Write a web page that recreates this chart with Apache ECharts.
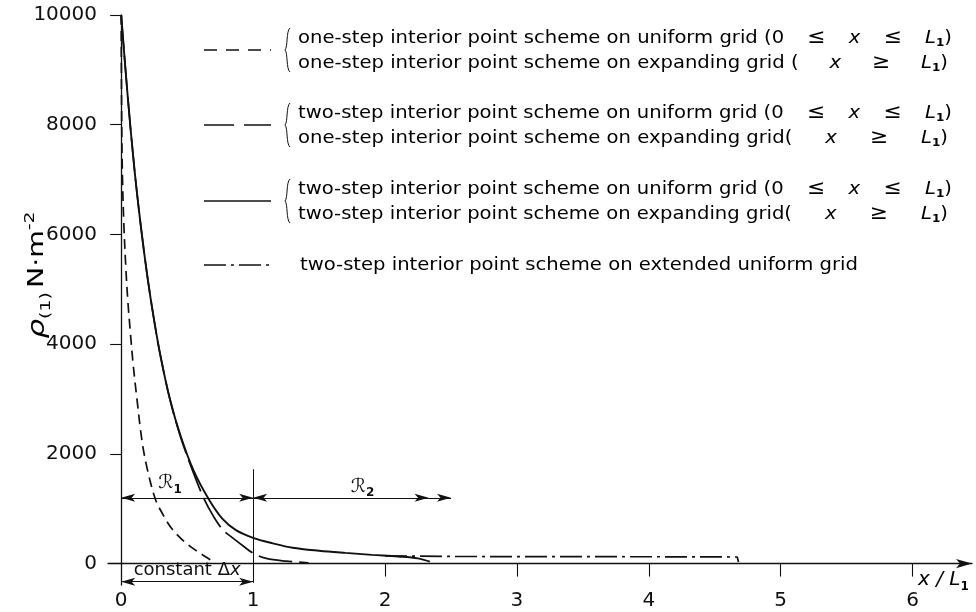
<!DOCTYPE html>
<html>
<head>
<meta charset="utf-8">
<script src="https://cdn.jsdelivr.net/npm/echarts@6/dist/echarts.min.js"></script>
<style>
  html, body { margin: 0; padding: 0; background: #fff; }
  #chart { width: 976px; height: 612px; }
</style>
</head>
<body>
<div id="chart"></div>
<script>
// Axis ticks
const xTicks = [0, 1, 2, 3, 4, 5, 6];
const xTickMarks = [1, 2, 3, 4, 5, 6];
const yTicks = [0, 2000, 4000, 6000, 8000, 10000];

// p(1) [N/m^2] against x/L1
// one-step scheme on uniform grid + one-step scheme on expanding grid
const oneStepBoth = [
  [0, 10000], [0.004, 8000], [0.01, 7000], [0.02, 6200], [0.035, 5400],
  [0.05, 4800], [0.07, 4200], [0.09, 3650], [0.12, 2990], [0.16, 2200],
  [0.2, 1700], [0.26, 1170], [0.32, 880], [0.38, 650], [0.47, 420],
  [0.56, 250], [0.63, 140], [0.69, 50]
];
// two-step scheme on uniform grid + one-step scheme on expanding grid
const twoStepOneStep = [
  [0, 10000], [0.05, 8500], [0.1, 7200], [0.15, 6130], [0.2, 5210],
  [0.25, 4430], [0.3, 3760], [0.37, 2990], [0.45, 2310], [0.55, 1640],
  [0.63, 1170], [0.7, 860], [0.77, 620], [0.85, 460], [0.92, 330],
  [1.0, 190], [1.1, 95], [1.25, 45], [1.42, 15]
];
// two-step scheme on uniform grid + two-step scheme on expanding grid
const twoStepBoth = [
  [0, 10000], [0.05, 8500], [0.1, 7200], [0.15, 6130], [0.2, 5210],
  [0.25, 4430], [0.3, 3760], [0.37, 2990], [0.45, 2330], [0.55, 1690],
  [0.665, 1170], [0.77, 810], [0.87, 610], [1.0, 470], [1.15, 370],
  [1.3, 290], [1.5, 235], [1.7, 195], [1.9, 160], [2.1, 130],
  [2.25, 95], [2.34, 35]
];
// two-step scheme on extended uniform grid
const twoStepExtended = [
  [2.0, 140], [2.5, 130], [3.0, 128], [3.5, 126], [4.0, 125],
  [4.5, 122], [4.67, 120], [4.68, 30]
];

// Region markers
const regionLevel = 1200;
const region1 = [0, 1];
const region2 = [1, 2.5];
const region2Inner = 2.33;
const boundary = [-350, 1720];
const constantLevel = -330;
const region1Label = [0.37, 1460];
const region2Label = [1.83, 1400];

const ink = '#111';
const font = 'DejaVu Sans';
const legendSize = 18;

// Legend entries: prose part, then the grid range written as spaced tokens
const legendRows = [
  { dash: [13, 9], lines: [
    { head: 'one-step interior point scheme on uniform grid (', range: ['0', '≤', 'x', '≤', 'L'] },
    { head: 'one-step interior point scheme on expanding grid (', range: ['x', '≥', 'L'] }] },
  { dash: [30, 10], lines: [
    { head: 'two-step interior point scheme on uniform grid (', range: ['0', '≤', 'x', '≤', 'L'] },
    { head: 'one-step interior point scheme on expanding grid(', range: ['x', '≥', 'L'] }] },
  { dash: null, lines: [
    { head: 'two-step interior point scheme on uniform grid (', range: ['0', '≤', 'x', '≤', 'L'] },
    { head: 'two-step interior point scheme on expanding grid(', range: ['x', '≥', 'L'] }] },
  { dash: [22, 5, 3, 5], lines: [
    { head: 'two-step interior point scheme on extended uniform grid', range: null }] }
];

const measureCtx = document.createElement('canvas').getContext('2d');
function textWidth(str, size, italic, bold) {
  measureCtx.font = (italic ? 'italic ' : '') + (bold ? 'bold ' : '') + size + 'px "' + font + '"';
  return measureCtx.measureText(str).width;
}

const textLeft = 298, singleLeft = 300;
const singleRight = 858;
const stretch = (singleRight - singleLeft) / textWidth(legendRows[3].lines[0].head, legendSize);

// Build one rich string; gaps inside the range are sized so the line ends at `right`
function legendLine(entry, right, left) {
  const base = {
    t: { fontFamily: font, fontSize: legendSize, color: ink, lineHeight: 22 },
    m: { fontFamily: font, fontSize: legendSize + 2, color: ink, lineHeight: 22 },
    i: { fontFamily: font, fontSize: legendSize, fontStyle: 'italic', color: ink, lineHeight: 22 },
    s: { fontFamily: font, fontSize: 11, fontWeight: 'bold', color: ink, lineHeight: 12, verticalAlign: 'bottom' }
  };
  if (!entry.range) return { text: '{t|' + entry.head + '}', rich: base };
  const italics = { x: true, L: true };
  const maths = { '≤': true, '≥': true };
  let used = textWidth(entry.head, legendSize) + textWidth('1', 11, false, true) + textWidth(')', legendSize);
  entry.range.forEach(tok => {
    used += textWidth(tok, maths[tok] ? legendSize + 2 : legendSize, italics[tok]);
  });
  const gaps = entry.range.length === 5 ? 4 : 3;
  const avail = (right - left) / stretch;
  const gap = Math.max(4, (avail - used) / gaps);
  base.g = { width: gap, lineHeight: 22, fontSize: legendSize };
  let txt = '{t|' + entry.head + '}';
  if (gaps === 3) txt += '{g| }';
  entry.range.forEach((tok, idx) => {
    const key = italics[tok] ? 'i' : (maths[tok] ? 'm' : 't');
    txt += '{' + key + '|' + tok + '}';
    if (idx < entry.range.length - 1) txt += '{g| }';
  });
  txt += '{s|1}{t|)}';
  return { text: txt, rich: base };
}

function curve(name, data, dash, width) {
  return {
    name, type: 'line', data, showSymbol: false, smooth: 0.35,
    lineStyle: { color: ink, width: width || 1.7, type: dash || 'solid' },
    animation: false, z: 3
  };
}

// Legend block: line sample, brace, text lines
const legendGraphics = [];
const rowTops = [38, 113, 189, 265];
const lineEnds = [952, 948];
legendRows.forEach((row, k) => {
  const y0 = rowTops[k];
  const two = row.lines.length === 2;
  const midY = two ? y0 + 12 : y0;
  legendGraphics.push({
    type: 'line', silent: true,
    shape: { x1: 204, y1: midY, x2: 271, y2: midY },
    style: { stroke: ink, lineWidth: 1.7, lineDash: row.dash || null }
  });
  if (two) {
    const bx = 287, t0 = y0 - 10, t1 = y0 + 34, m = midY;
    legendGraphics.push({
      type: 'bezierCurve', silent: true,
      shape: { x1: bx + 3, y1: t0, cpx1: bx - 1, cpy1: t0 + 3, cpx2: bx + 1, cpy2: m - 3, x2: bx - 2, y2: m },
      style: { stroke: ink, lineWidth: 1, fill: null }
    });
    legendGraphics.push({
      type: 'bezierCurve', silent: true,
      shape: { x1: bx - 2, y1: m, cpx1: bx + 1, cpy1: m + 3, cpx2: bx - 1, cpy2: t1 - 3, x2: bx + 3, y2: t1 },
      style: { stroke: ink, lineWidth: 1, fill: null }
    });
    row.lines.forEach((entry, j) => {
      const built = legendLine(entry, lineEnds[j], textLeft);
      legendGraphics.push({
        type: 'text', silent: true, x: textLeft, y: y0 + j * 25, scaleX: stretch,
        style: { text: built.text, rich: built.rich, verticalAlign: 'middle', align: 'left' }
      });
    });
  } else {
    const built = legendLine(row.lines[0], singleRight, singleLeft);
    legendGraphics.push({
      type: 'text', silent: true, x: singleLeft, y: y0, scaleX: stretch,
      style: { text: built.text, rich: built.rich, verticalAlign: 'middle', align: 'left' }
    });
  }
});

const chart = echarts.init(document.getElementById('chart'), null, { renderer: 'canvas' });

const axisLineStyle = { color: ink, width: 1.3 };
const tickFont = { fontFamily: font, fontSize: 20, color: ink, formatter: v => String(v) };

chart.setOption({
  backgroundColor: '#fff',
  animation: false,
  grid: { left: 108, right: 4, top: 15, bottom: 27, outerBoundsMode: 'none', containLabel: false },
  xAxis: {
    type: 'value', min: -0.1, max: 6.45,
    axisLine: { onZero: true, lineStyle: axisLineStyle, symbol: ['none', 'arrow'], symbolSize: [7, 16] },
    axisTick: { customValues: xTickMarks, length: 13, lineStyle: { color: ink, width: 1.1 } },
    axisLabel: Object.assign({ customValues: xTicks, margin: 6 }, tickFont),
    splitLine: { show: false }
  },
  yAxis: {
    type: 'value', min: -390, max: 10000,
    axisLine: { onZero: true, lineStyle: axisLineStyle },
    axisTick: { customValues: yTicks, length: 11, lineStyle: { color: ink, width: 1.1 } },
    axisLabel: Object.assign({ customValues: yTicks, margin: 11 }, tickFont),
    splitLine: { show: false }
  },
  series: [
    curve('one-step / one-step', oneStepBoth, [10, 6]),
    curve('two-step / one-step', twoStepOneStep, [34, 7]),
    curve('two-step / two-step', twoStepBoth, 'solid', 1.9),
    Object.assign(curve('two-step extended', twoStepExtended, [22, 5, 3, 5]), {
      smooth: false,
      markLine: {
        silent: true, animation: false,
        symbolSize: [6, 14],
        lineStyle: { color: ink, type: 'solid', width: 1.2 },
        label: { show: false },
        data: [
          [{ coord: [region1[0], regionLevel], symbol: 'arrow' }, { coord: [region1[1], regionLevel], symbol: 'arrow' }],
          [{ coord: [region2[0], regionLevel], symbol: 'arrow' }, { coord: [region2[1], regionLevel], symbol: 'arrow' }],
          [{ coord: [region2[0], regionLevel], symbol: 'none' }, { coord: [region2Inner, regionLevel], symbol: 'arrow' }],
          [{ coord: [region1[1], boundary[0]], symbol: 'none' }, { coord: [region1[1], boundary[1]], symbol: 'none', lineStyle: { width: 1 } }],
          [{ coord: [region1[0], constantLevel], symbol: 'arrow' },
           { coord: [region1[1], constantLevel], symbol: 'arrow',
             label: { show: true, position: 'insideMiddleTop', distance: 2,
               formatter: '{a|constant Δ}{b|x}',
               rich: {
                 a: { fontFamily: font, fontSize: 18, color: ink },
                 b: { fontFamily: font, fontSize: 18, fontStyle: 'italic', color: ink }
               } } }]
        ]
      },
      markPoint: {
        silent: true, animation: false, symbol: 'circle', symbolSize: 1,
        itemStyle: { color: 'rgba(0,0,0,0)' },
        label: {
          show: true, position: 'inside',
          rich: {
            r: { fontFamily: font, fontSize: 19, fontStyle: 'italic', color: ink, lineHeight: 24 },
            n: { fontFamily: font, fontSize: 12, fontWeight: 'bold', color: ink, lineHeight: 12, verticalAlign: 'bottom' }
          }
        },
        data: [
          { coord: region1Label, label: { formatter: '{r|ℛ}{n|1}' } },
          { coord: region2Label, label: { formatter: '{r|ℛ}{n|2}' } }
        ]
      }
    })
  ],
  graphic: legendGraphics.concat([
    {
      type: 'text', silent: true, x: 38, y: 275, rotation: Math.PI / 2, scaleX: 1.35,
      style: {
        text: '{r|ρ}{sub|(1)}{g| }{n|N·m}{sup|-2}', align: 'center', verticalAlign: 'middle',
        rich: {
          r: { fontFamily: font, fontSize: 23, fontStyle: 'italic', color: ink, lineHeight: 30 },
          sub: { fontFamily: font, fontSize: 14, color: ink, lineHeight: 14, verticalAlign: 'bottom' },
          g: { width: 3, lineHeight: 30 },
          n: { fontFamily: font, fontSize: 21, color: ink, lineHeight: 30 },
          sup: { fontFamily: font, fontSize: 14, color: ink, lineHeight: 14, verticalAlign: 'top' }
        }
      }
    },
    {
      type: 'text', silent: true, x: 918, y: 580,
      style: {
        text: '{i|x / L}{s|1}', align: 'left', verticalAlign: 'middle',
        rich: {
          i: { fontFamily: font, fontSize: 20, fontStyle: 'italic', color: ink, lineHeight: 26 },
          s: { fontFamily: font, fontSize: 12, fontWeight: 'bold', color: ink, lineHeight: 12, verticalAlign: 'bottom' }
        }
      }
    }
  ])
});
</script>
</body>
</html>
